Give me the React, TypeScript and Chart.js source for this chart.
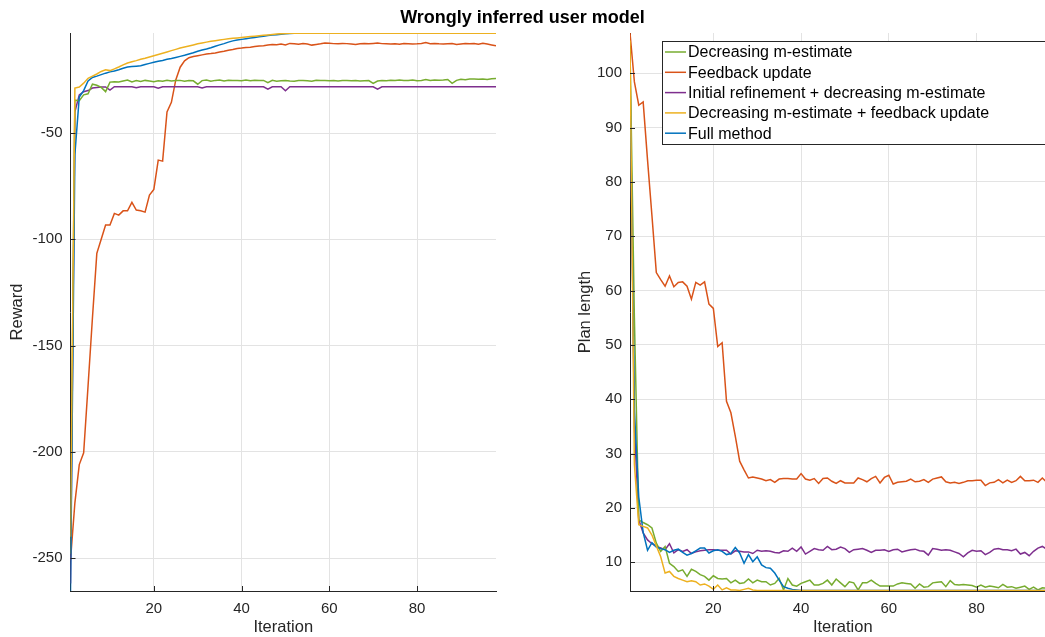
import React, { useEffect, useRef } from "react";
import { Chart, registerables } from "chart.js";

Chart.register(...registerables);

const FONT = '"Liberation Sans", Arial, Helvetica, sans-serif';
Chart.defaults.font.family = FONT;
Chart.defaults.color = "#262626";

// ---------- labels / ticks ----------
const TITLE = "Wrongly inferred user model";
const SERIES_LABELS = [
  "Decreasing m-estimate",
  "Feedback update",
  "Initial refinement + decreasing m-estimate",
  "Decreasing m-estimate + feedback update",
  "Full method",
];
const SERIES_COLORS = ["#77AC30", "#D95319", "#7E2F8E", "#EDB120", "#0072BD"];
const DRAW_ORDER = [3, 5, 4, 1, 2]; // lower = drawn on top
const ITER_TICKS = [20, 40, 60, 80];
const REWARD_TICKS = [-250, -200, -150, -100, -50];
const PLAN_TICKS = [10, 20, 30, 40, 50, 60, 70, 80, 90, 100];

// ---------- Reward (left) ----------
const rewardGreen = [
  -248, -34.5, -34.8, -32.0, -31.5, -27.0, -27.5, -28.5, -30.5, -26.0,
  -25.8, -26.0, -25.5, -25.0, -25.9, -25.3, -25.7, -25.2, -25.5, -25.8,
  -25.4, -25.6, -25.1, -25.5, -25.3, -25.2, -25.6, -25.3, -25.4, -27.0,
  -25.3, -25.0, -25.6, -25.2, -25.0, -25.5, -25.1, -25.3, -25.2, -25.4,
  -25.0, -25.4, -25.1, -25.3, -25.2, -26.3, -25.2, -25.6, -25.4, -25.3,
  -25.5, -25.6, -25.3, -25.2, -25.4, -25.6, -25.1, -25.3, -25.2, -25.4,
  -25.3, -25.5, -25.2, -25.3, -25.4, -25.3, -25.5, -25.4, -25.3, -26.6,
  -25.5, -25.2, -25.4, -25.1, -25.3, -25.0, -25.2, -25.3, -25.0, -25.4,
  -25.2, -24.8, -25.3, -25.0, -25.1, -25.0, -24.8, -26.6, -25.2, -24.7,
  -24.9, -24.6, -24.6, -24.7, -24.6, -24.8, -24.4, -24.3,
];
const rewardRed = [
  -251, -224, -206, -200.5, -169, -137, -106.6, -100, -93.3, -93.3,
  -87.8, -88.6, -86.6, -86.6, -82.6, -86.2, -86.6, -87.2, -79.2, -76.5,
  -62.7, -63.2, -40, -35.5, -25, -19, -16, -14.5, -14, -13.6,
  -13.2, -12.8, -12.6, -12.3, -11.8, -11.5, -11.0, -10.7, -10.2, -10.0,
  -9.7, -9.6, -9.3, -9.0, -8.9, -8.6, -8.3, -8.4, -8.1, -8.5,
  -7.8, -8.0, -8.2, -7.9, -8.1, -8.6, -8.3, -8.0, -7.6, -7.7,
  -7.9, -8.0, -7.8, -7.9, -8.1, -8.3, -8.0, -7.9, -8.0, -7.8,
  -7.6, -7.9, -8.0, -8.1, -8.0, -8.2, -7.9, -8.0, -8.1, -8.0,
  -7.8, -7.4, -7.9, -7.8, -8.0, -8.1, -8.0, -7.9, -8.3, -8.1,
  -7.9, -8.0, -7.8, -8.2, -7.7, -8.1, -8.5, -8.9,
];
const rewardPurple = [
  -262, -40, -32, -30.5, -30.0, -28.8, -28.5, -28.3, -28.3, -29.8,
  -28.2, -28.2, -28.2, -28.2, -28.2, -28.7, -28.2, -28.2, -28.2, -28.2,
  -28.9, -28.2, -28.2, -28.2, -28.2, -28.2, -28.2, -28.2, -28.2, -28.2,
  -28.8, -28.2, -28.2, -28.2, -28.2, -28.2, -28.2, -28.2, -28.2, -28.2,
  -28.2, -28.2, -28.2, -28.2, -28.2, -29.3, -28.2, -28.2, -28.2, -30.1,
  -28.2, -28.2, -28.2, -28.2, -28.2, -28.2, -28.2, -28.2, -28.2, -28.2,
  -28.2, -28.2, -28.2, -28.2, -28.2, -28.2, -28.2, -28.2, -28.2, -28.2,
  -29.3, -28.2, -28.2, -28.2, -28.2, -28.2, -28.2, -28.2, -28.2, -28.2,
  -28.2, -28.2, -28.2, -28.2, -28.2, -28.2, -28.2, -28.2, -28.2, -28.2,
  -28.2, -28.2, -28.2, -28.2, -28.2, -28.2, -28.2, -28.2,
];
const rewardYellow = [
  -240, -28.8, -28.3, -26.5, -24.2, -23.2, -22.2, -21.0, -20.2, -20.6,
  -19.8, -18.9, -17.9, -17.0, -16.4, -15.9, -15.3, -14.8, -14.2, -13.6,
  -13.0, -12.4, -11.8, -11.2, -10.6, -10.0, -9.5, -9.0, -8.5, -8.0,
  -7.6, -7.2, -6.8, -6.5, -6.2, -5.9, -5.6, -5.4, -5.2, -5.0,
  -4.8, -4.6, -4.4, -4.2, -4.0, -3.8, -3.6, -3.4, -3.2, -3.1,
  -3.0, -3.0, -3.0, -3.0, -3.0, -3.0, -3.0, -3.0, -3.0, -3.0,
  -3.0, -3.0, -3.0, -3.0, -3.0, -3.0, -3.0, -3.0, -3.0, -3.0,
  -3.0, -3.0, -3.0, -3.0, -3.0, -3.0, -3.0, -3.0, -3.0, -3.0,
  -3.0, -3.0, -3.0, -3.0, -3.0, -3.0, -3.0, -3.0, -3.0, -3.0,
  -3.0, -3.0, -3.0, -3.0, -3.0, -3.0, -3.0, -3.0,
];
const rewardBlue = [
  -265.5, -60, -33, -30, -25.5, -23.8, -23.2, -22.5, -21.8, -21.2,
  -20.8, -20.2, -19.5, -18.9, -18.7, -18.5, -18.3, -17.7, -17.2, -16.7,
  -16.2, -15.8, -15.3, -14.9, -14.4, -13.9, -13.4, -12.8, -12.2, -11.5,
  -10.9, -10.4, -9.8, -9.1, -8.5, -7.9, -7.2, -6.6, -6.2, -5.9,
  -5.6, -5.3, -5.0, -4.7, -4.4, -4.1, -3.9, -3.7, -3.5, -3.3,
  -3.1, -3.0, -3.0, -3.0, -3.0, -3.0, -3.0, -3.0, -3.0, -3.0,
  -3.0, -3.0, -3.0, -3.0, -3.0, -3.0, -3.0, -3.0, -3.0, -3.0,
  -3.0, -3.0, -3.0, -3.0, -3.0, -3.0, -3.0, -3.0, -3.0, -3.0,
  -3.0, -3.0, -3.0, -3.0, -3.0, -3.0, -3.0, -3.0, -3.0, -3.0,
  -3.0, -3.0, -3.0, -3.0, -3.0, -3.0, -3.0, -3.0,
];

// ---------- Plan length (right) ----------
const planGreen = [
  104.5, 55, 17.8, 17.3, 16.9, 16.3, 13.5, 12.0, 12.9, 9.8,
  9.2, 8.3, 8.6, 7.4, 8.7, 8.3, 7.7, 7.4, 6.7, 7.5,
  7.0, 6.9, 7.0, 6.2, 6.7, 6.1, 6.2, 6.9, 6.2, 6.7,
  6.4, 6.4, 5.8, 6.1, 7.0, 4.9, 7.0, 5.8, 5.6, 6.1,
  6.4, 6.7, 5.8, 5.8, 6.1, 6.7, 5.8, 6.9, 6.2, 5.5,
  6.4, 6.2, 4.9, 6.2, 6.2, 6.7, 6.1, 5.6, 5.6, 5.6,
  5.6, 6.0, 6.2, 6.1, 6.0, 5.2, 6.0, 5.4, 5.5, 6.2,
  6.3, 6.4, 5.5, 6.6, 5.9, 5.8, 5.9, 5.8, 5.7, 5.4,
  5.8, 5.4, 5.6, 5.5, 5.3, 5.9, 5.4, 5.5, 5.2, 5.4,
  5.6, 5.0, 5.4, 4.9, 5.3, 5.2, 5.1, 5.0,
];
const planRed = [
  107.4, 98.4, 94.1, 94.7, 84, 73.8, 63.3, 62.0, 60.8, 62.7,
  60.7, 61.5, 61.6, 60.8, 58.4, 61.5, 61.0, 61.6, 57.5, 56.7,
  49.7, 50.4, 39.6, 37.5, 33.2, 28.6, 27.0, 25.5, 25.7, 25.5,
  25.3, 25.0, 25.2, 24.7, 25.3, 25.4, 25.4, 25.3, 25.3, 26.3,
  25.3, 25.1, 25.4, 24.5, 25.4, 25.5, 24.9, 24.5, 25.0, 24.6,
  24.6, 24.6, 25.5, 25.2, 24.8, 25.4, 25.8, 24.6, 25.6, 26.0,
  24.4, 24.7, 24.8, 24.9, 25.3, 24.8, 24.9, 25.2, 24.7, 25.3,
  25.5, 25.7, 24.8, 24.6, 24.7, 24.5, 24.7, 25.0, 25.0, 25.1,
  25.1, 24.1, 24.6, 24.7, 25.2, 24.6, 25.1, 24.7, 25.0, 25.8,
  25.0, 25.0, 25.1, 24.7, 25.5, 24.7, 25.4, 25.0,
];
const planPurple = [
  102, 35, 17.8, 15.4, 14.1, 13.4, 12.9, 12.6, 12.3, 13.4,
  11.7, 12.3, 12.0, 12.3, 11.6, 11.9, 12.1, 12.2, 12.3, 12.3,
  12.2, 12.2, 12.2, 11.5, 12.1, 12.0, 11.9, 11.9, 11.6, 12.2,
  12.0, 12.1, 12.0, 11.8, 11.7, 12.1, 12.0, 12.6, 12.0, 12.8,
  11.5, 12.0, 12.5, 12.3, 12.2, 12.9, 12.3, 12.4, 12.8, 12.5,
  11.8, 12.3, 12.4, 12.5, 12.2, 11.8, 12.2, 12.2, 12.3, 12.0,
  12.3, 12.4, 11.9, 12.1, 12.3, 12.4, 12.1, 12.0, 11.3, 12.5,
  12.4, 12.2, 12.3, 12.2, 11.9, 11.6, 11.0, 11.7, 12.2, 12.0,
  12.1, 11.4, 11.8, 12.4, 12.5, 12.3, 12.3, 12.1, 12.4, 11.5,
  11.8, 11.2, 12.0, 12.6, 12.9, 12.4, 12.3, 12.2,
];
const planYellow = [
  106, 28, 16.9, 16.6, 16.3, 15.0, 13.0, 11.0, 8.0, 8.3,
  7.4, 7.0, 6.7, 6.4, 6.6, 6.4, 5.8, 6.0, 5.6, 5.0,
  5.8, 4.9, 5.3, 4.9, 4.9, 4.8, 5.0, 5.2, 4.9, 4.8,
  4.8, 4.8, 4.8, 4.8, 4.8, 4.8, 4.8, 4.8, 4.8, 4.8,
  4.8, 4.8, 4.8, 4.8, 4.8, 4.8, 4.8, 4.8, 4.8, 4.8,
  4.8, 4.8, 4.8, 4.8, 4.8, 4.8, 4.8, 4.8, 4.8, 4.8,
  4.8, 4.8, 4.8, 4.8, 4.8, 4.8, 4.8, 4.8, 4.8, 4.8,
  4.8, 4.8, 4.8, 4.8, 4.8, 4.8, 4.8, 4.8, 4.8, 4.8,
  4.8, 4.8, 4.8, 4.8, 4.8, 4.8, 4.8, 4.8, 4.8, 4.8,
  4.8, 4.8, 4.8, 4.8, 4.8, 4.8, 4.8, 4.8,
];
const planBlue = [
  100, 38, 22, 15.5, 12.2, 13.6, 12.8, 12.5, 12.3, 11.8,
  12.2, 12.4, 11.8, 11.3, 11.6, 12.1, 12.6, 12.6, 11.7, 12.1,
  12.3, 12.0, 11.4, 11.6, 12.7, 11.7, 9.8, 11.4, 10.1, 11.0,
  9.5, 9.0, 8.9, 8.0, 6.7, 5.5, 5.2, 5.0, 4.9, 4.8,
  4.8, 4.8, 4.8, 4.8, 4.8, 4.8, 4.8, 4.8, 4.8, 4.8,
  4.8, 4.8, 4.8, 4.8, 4.8, 4.8, 4.8, 4.8, 4.8, 4.8,
  4.8, 4.8, 4.8, 4.8, 4.8, 4.8, 4.8, 4.8, 4.8, 4.8,
  4.8, 4.8, 4.8, 4.8, 4.8, 4.8, 4.8, 4.8, 4.8, 4.8,
  4.8, 4.8, 4.8, 4.8, 4.8, 4.8, 4.8, 4.8, 4.8, 4.8,
  4.8, 4.8, 4.8, 4.8, 4.8, 4.8, 4.8, 4.8,
];

const REWARD_SERIES = [rewardGreen, rewardRed, rewardPurple, rewardYellow, rewardBlue];
const PLAN_SERIES = [planGreen, planRed, planPurple, planYellow, planBlue];

const AXIS_COLOR = "#262626";
const GRID_COLOR = "#e3e3e3";

// MATLAB-style inward tick marks
const innerTicks = {
  id: "innerTicks",
  afterDraw(chart: any) {
    const { ctx, chartArea, scales } = chart;
    ctx.save();
    ctx.strokeStyle = AXIS_COLOR;
    ctx.lineWidth = 1;
    scales.x.ticks.forEach((t: any) => {
      const px = Math.round(scales.x.getPixelForValue(t.value)) + 0.5;
      ctx.beginPath();
      ctx.moveTo(px, chartArea.bottom);
      ctx.lineTo(px, chartArea.bottom - 5);
      ctx.stroke();
    });
    scales.y.ticks.forEach((t: any) => {
      const py = Math.round(scales.y.getPixelForValue(t.value)) + 0.5;
      ctx.beginPath();
      ctx.moveTo(chartArea.left, py);
      ctx.lineTo(chartArea.left + 5, py);
      ctx.stroke();
    });
    ctx.restore();
  },
};

// Boxed legend in the upper right of the plot area
const boxLegend = {
  id: "boxLegend",
  afterDraw(chart: any, _args: any, opts: any) {
    if (!opts || !opts.display) return;
    const { ctx, chartArea } = chart;
    const left = chartArea.left + opts.offsetLeft;
    const top = chartArea.top + 8;
    const right = chartArea.right - 8;
    const rowH = 20.3;
    const n = chart.data.datasets.length;
    const height = rowH * n + 1.5;
    ctx.save();
    ctx.fillStyle = "#ffffff";
    ctx.fillRect(left, top, right - left, height);
    ctx.strokeStyle = AXIS_COLOR;
    ctx.lineWidth = 1;
    ctx.strokeRect(Math.round(left) + 0.5, Math.round(top) + 0.5, right - left, height);
    ctx.font = `16px ${FONT}`;
    ctx.textBaseline = "middle";
    ctx.textAlign = "left";
    chart.data.datasets.forEach((ds: any, i: number) => {
      const y = top + 11 + i * rowH;
      ctx.strokeStyle = ds.borderColor;
      ctx.lineWidth = 1.5;
      ctx.beginPath();
      ctx.moveTo(left + 3, y);
      ctx.lineTo(left + 24, y);
      ctx.stroke();
      ctx.fillStyle = "#000000";
      ctx.fillText(ds.label, left + 26, y + 1);
    });
    ctx.restore();
  },
};

function makeConfig(
  series: number[][],
  yMin: number,
  yMax: number,
  yTicks: number[],
  yTitle: string,
  yAxisWidth: number,
  padRight: number,
  legend: boolean
): any {
  return {
    type: "line",
    data: {
      datasets: series.map((vals, k) => ({
        label: SERIES_LABELS[k],
        data: vals.map((v, i) => ({ x: i + 1, y: v })),
        borderColor: SERIES_COLORS[k],
        backgroundColor: SERIES_COLORS[k],
        borderWidth: 1.5,
        pointRadius: 0,
        tension: 0,
        fill: false,
        order: DRAW_ORDER[k],
      })),
    },
    options: {
      responsive: false,
      animation: false,
      devicePixelRatio: 1,
      events: [],
      layout: { padding: { top: 33, right: padRight, bottom: 0, left: 0 } },
      plugins: {
        legend: { display: false },
        tooltip: { enabled: false },
        title: { display: false },
        boxLegend: { display: legend, offsetLeft: 32 },
      },
      scales: {
        x: {
          type: "linear",
          min: 1,
          max: 98,
          afterBuildTicks: (s: any) => {
            s.ticks = ITER_TICKS.map((v) => ({ value: v }));
          },
          afterFit: (s: any) => {
            s.height = 46;
          },
          grid: { color: GRID_COLOR, drawTicks: false },
          border: { display: true, color: AXIS_COLOR, width: 1 },
          ticks: { padding: 9, color: AXIS_COLOR, font: { size: 15 }, maxRotation: 0, autoSkip: false },
          title: {
            display: true,
            text: "Iteration",
            color: AXIS_COLOR,
            font: { size: 16.5 },
            padding: { top: 0, bottom: 0 },
          },
        },
        y: {
          type: "linear",
          min: yMin,
          max: yMax,
          afterBuildTicks: (s: any) => {
            s.ticks = yTicks.map((v) => ({ value: v }));
          },
          afterFit: (s: any) => {
            s.width = yAxisWidth;
          },
          grid: { color: GRID_COLOR, drawTicks: false },
          border: { display: true, color: AXIS_COLOR, width: 1 },
          ticks: { padding: 8, color: AXIS_COLOR, font: { size: 15 }, autoSkip: false },
          title: {
            display: true,
            text: yTitle,
            color: AXIS_COLOR,
            font: { size: 16.5 },
            padding: { top: 8, bottom: 0 },
          },
        },
      },
    },
    plugins: [innerTicks, boxLegend],
  };
}

function ChartCanvas(props: { config: any; left: number; width: number; height: number }) {
  const ref = useRef<HTMLCanvasElement>(null);
  useEffect(() => {
    const chart = new Chart(ref.current as HTMLCanvasElement, props.config);
    return () => chart.destroy();
  }, []);
  return (
    <canvas
      ref={ref}
      width={props.width}
      height={props.height}
      style={{ position: "absolute", left: props.left, top: 0, width: props.width, height: props.height }}
    />
  );
}

export default function App() {
  const leftCfg = makeConfig(REWARD_SERIES, -265.5, -2.9, REWARD_TICKS, "Reward", 70.5, 24, false);
  const rightCfg = makeConfig(PLAN_SERIES, 4.7, 107.4, PLAN_TICKS, "Plan length", 62, 12.5, true);
  return (
    <div
      style={{
        position: "fixed",
        left: 0,
        top: 0,
        width: 1045,
        height: 637,
        overflow: "hidden",
        background: "#ffffff",
      }}
    >
      <ChartCanvas config={leftCfg} left={0} width={520} height={637} />
      <ChartCanvas config={rightCfg} left={568} width={500} height={637} />
      <div
        style={{
          position: "absolute",
          left: 0,
          top: 6,
          width: 1045,
          textAlign: "center",
          fontFamily: FONT,
          fontWeight: "bold",
          fontSize: 18,
          lineHeight: "22px",
          color: "#000000",
        }}
      >
        {TITLE}
      </div>
    </div>
  );
}
